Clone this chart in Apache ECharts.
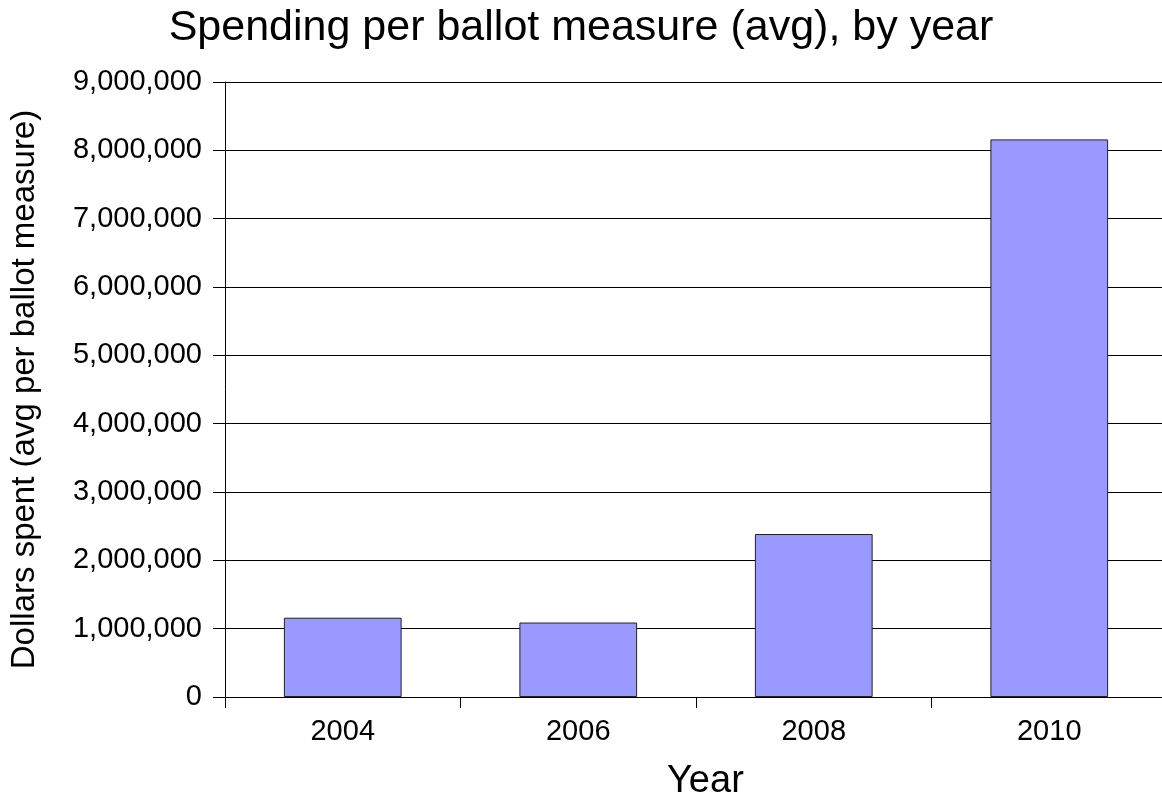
<!DOCTYPE html>
<html>
<head>
<meta charset="utf-8">
<script src="https://cdn.jsdelivr.net/npm/echarts@6/dist/echarts.min.js"></script>
<style>
  html, body { margin: 0; padding: 0; background: #fff; }
  #chart { width: 1162px; height: 804px; }
</style>
</head>
<body>
<div id="chart"></div>
<script>
// Average spending per ballot measure, by election year
const years = ['2004', '2006', '2008', '2010'];
const avgSpending = [1160000, 1090000, 2385000, 8160000];
const yTicks = { min: 0, max: 9000000, interval: 1000000 };

const FONT = '"Liberation Sans", Arial, sans-serif';
const chart = echarts.init(document.getElementById('chart'));

chart.setOption({
  animation: false,
  backgroundColor: '#ffffff',
  title: {
    text: 'Spending per ballot measure (avg), by year',
    left: 'center',
    top: 2,
    textStyle: { fontFamily: FONT, fontSize: 43, fontWeight: 'normal', color: '#000' }
  },
  graphic: [{
    type: 'text',
    left: 667,
    top: 763,
    style: { text: 'Year', font: '38px ' + FONT, fill: '#000' }
  }],
  // the plot runs slightly past the right edge of the canvas
  grid: { left: 225, right: -5, top: 82, bottom: 107, outerBoundsMode: 'none', containLabel: false },
  xAxis: {
    type: 'category',
    data: years,
    axisLine: { lineStyle: { color: '#000', width: 1 } },
    axisTick: { show: true, length: 11, lineStyle: { color: '#000' } },
    axisLabel: { margin: 20, fontFamily: FONT, fontSize: 29, color: '#000' }
  },
  yAxis: {
    type: 'value',
    min: yTicks.min,
    max: yTicks.max,
    interval: yTicks.interval,
    name: 'Dollars spent (avg per ballot measure)',
    nameLocation: 'middle',
    nameGap: 184,
    nameTextStyle: { fontFamily: FONT, fontSize: 33, color: '#000' },
    axisLine: { show: true, lineStyle: { color: '#000', width: 1 } },
    axisTick: { show: true, length: 12, lineStyle: { color: '#000' } },
    splitLine: { show: true, lineStyle: { color: '#000', width: 1 } },
    axisLabel: {
      margin: 23,
      fontFamily: FONT,
      fontSize: 29,
      color: '#000',
      formatter: v => v.toLocaleString('en-US')
    }
  },
  series: [{
    type: 'bar',
    data: avgSpending,
    barWidth: '50%',
    itemStyle: { color: '#9999ff', borderColor: '#222', borderWidth: 1 }
  }]
});
</script>
</body>
</html>
